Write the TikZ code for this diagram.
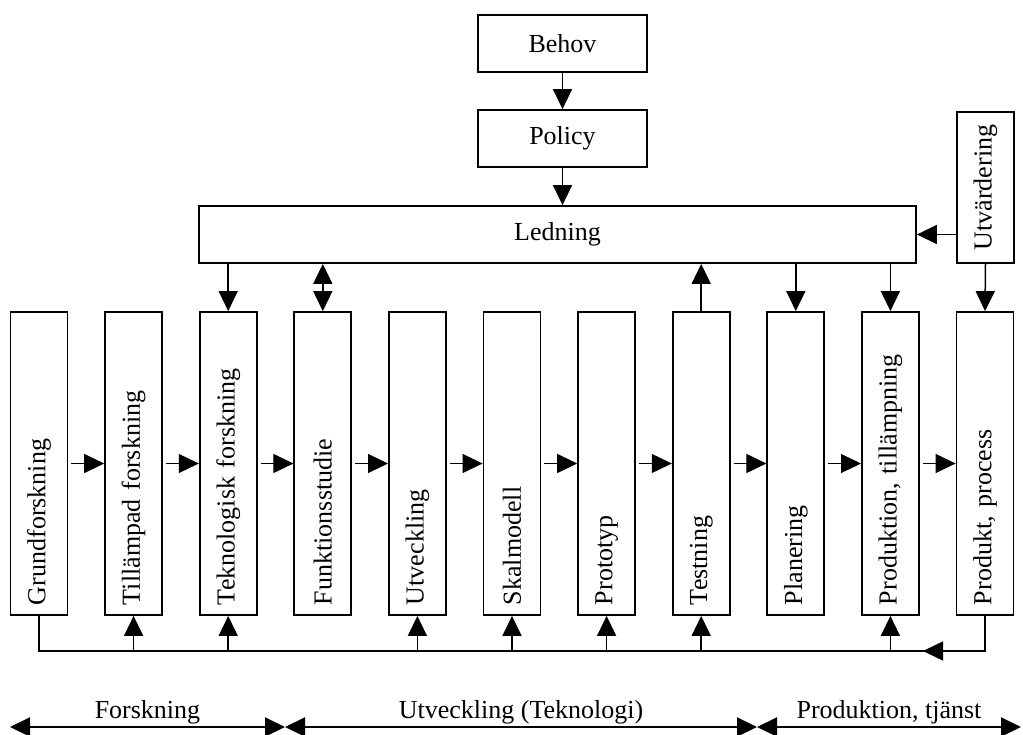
\documentclass[tikz,border=0pt]{standalone}
\usepackage{fontspec}
\setmainfont{Liberation Serif}
\usetikzlibrary{arrows.meta}
\frenchspacing
\tikzset{
  txt/.style={font=\fontsize{26}{30}\selectfont\frenchspacing},
  hbox/.style={txt, draw, line width=1.8pt, inner sep=0pt},
  vbox/.style={txt, draw, line width=1.8pt, rotate=90, minimum height=57pt,
    text width=283pt, inner xsep=10pt, inner ysep=0pt, align=left},
  ubox/.style={txt, draw, line width=1.8pt, rotate=90, minimum height=57pt,
    minimum width=151pt, inner sep=0pt},
  tip/.style={-{Triangle[length=20pt,width=19pt]}},
  arr/.style={tip, line width=1.5pt},
  harr/.style={tip, line width=1pt, shorten <=3pt},
  darr/.style={{Triangle[length=20pt,width=19pt]}-{Triangle[length=20pt,width=19pt]}, line width=1.5pt},
  fline/.style={line width=1.6pt},
  barr/.style={{Triangle[length=20pt,width=19pt]}-{Triangle[length=20pt,width=19pt]}, line width=2pt},
}
\begin{document}
\begin{tikzpicture}[x=1pt,y=-1pt]
\useasboundingbox (0,0) rectangle (1023,735);
% top boxes
\node[hbox, minimum width=169pt, minimum height=57pt] (behov) at (562.5,43.5) {Behov};
\node[hbox, minimum width=169pt, minimum height=57pt] (policy) at (562.5,138.5) {Policy};
\node[hbox, minimum width=717pt, minimum height=57pt] (led) at (557.5,234.5) {Ledning};
\node[ubox] (utv) at (985.5,187.5) {Utvärdering};
% bottom row
\node[vbox] (b1) at (39,463.5) {Grundforskning};
\node[vbox] (b2) at (133.6,463.5) {Tillämpad forskning};
\node[vbox] (b3) at (228.2,463.5) {Teknologisk forskning};
\node[vbox] (b4) at (322.8,463.5) {Funktionsstudie};
\node[vbox] (b5) at (417.4,463.5) {Utveckling};
\node[vbox] (b6) at (512,463.5) {Skalmodell};
\node[vbox] (b7) at (606.6,463.5) {Prototyp};
\node[vbox] (b8) at (701.2,463.5) {Testning};
\node[vbox] (b9) at (795.8,463.5) {Planering};
\node[vbox] (b10) at (890.4,463.5) {Produktion, tillämpning};
\node[vbox] (b11) at (985,463.5) {Produkt, process};
% top connectors
\draw[arr] (behov.south) -- (policy.north);
\draw[arr] (policy.south) -- (policy.south |- led.north);
\draw[arr] (b3.east |- led.south) -- (b3.east);
\draw[darr] (b4.east |- led.south) -- (b4.east);
\draw[arr] (b8.east) -- (b8.east |- led.south);
\draw[arr] (b9.east |- led.south) -- (b9.east);
\draw[arr] (b10.east |- led.south) -- (b10.east);
\draw[arr] (utv.west) -- (b11.east);
\draw[arr] (utv.north |- led.east) -- (led.east);
% horizontal chain
\foreach \a/\b in {b1/b2,b2/b3,b3/b4,b4/b5,b5/b6,b6/b7,b7/b8,b8/b9,b9/b10,b10/b11}
  \draw[harr] (\a.south) -- (\b.north);
% feedback line
\coordinate (fb) at (0,651);
\coordinate (fbtip) at (923,651);
\draw[fline] (b1.west) |- (b11.west |- fb) -- (b11.west);
\draw[arr] (b11.west |- fb) -- (fbtip);
\foreach \i in {2,3,5,6,7,8,10}
  \draw[arr] (b\i.west |- fb) -- (b\i.west);
% phase arrows
\coordinate (p0) at (10,727);
\coordinate (p1) at (285,727);
\coordinate (p2) at (757,727);
\coordinate (p3) at (1021,727);
\draw[barr] (p0) -- (p1);
\draw[barr] (p1) -- (p2);
\draw[barr] (p2) -- (p3);
\node[txt, anchor=base] (l1) at (147.5,718) {Forskning};
\node[txt, anchor=base] (l2) at (521,718) {Utveckling (Teknologi)};
\node[txt, anchor=base] (l3) at (889,718) {Produktion, tjänst};
\end{tikzpicture}
\end{document}
